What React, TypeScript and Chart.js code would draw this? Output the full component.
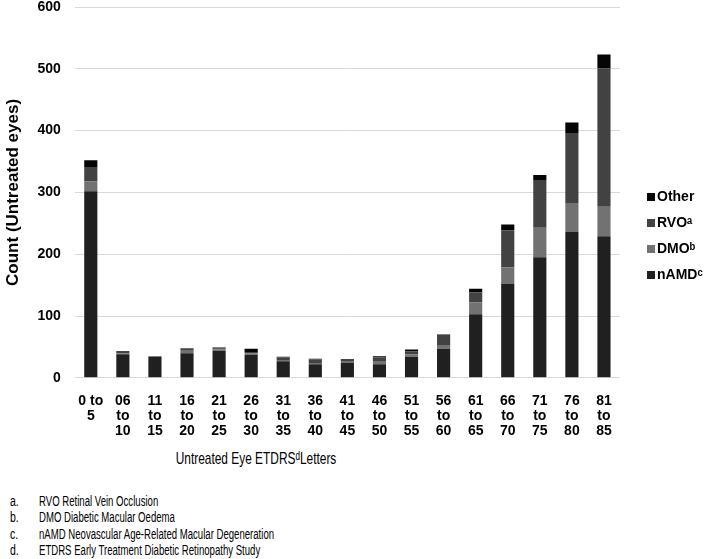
import React, { useEffect, useRef } from "react";
import { Chart, registerables } from "chart.js";

Chart.register(...registerables);

const categories: string[][] = [
  ["0 to", "5"], ["06", "to", "10"], ["11", "to", "15"], ["16", "to", "20"],
  ["21", "to", "25"], ["26", "to", "30"], ["31", "to", "35"], ["36", "to", "40"],
  ["41", "to", "45"], ["46", "to", "50"], ["51", "to", "55"], ["56", "to", "60"],
  ["61", "to", "65"], ["66", "to", "70"], ["71", "to", "75"], ["76", "to", "80"],
  ["81", "to", "85"],
];

const nAMD = [302, 38, 34, 40, 44, 37, 27, 22, 24, 22, 34, 47, 103, 152, 195, 236, 229];
const DMO = [16, 2, 0, 4, 2, 3, 2, 1, 2, 4, 4, 5, 19, 27, 48, 47, 48];
const RVO = [22, 2, 1, 3, 2, 2, 4, 7, 3, 7, 5, 16, 16, 60, 77, 113, 224];
const Other = [12, 1, 0, 1, 1, 5, 1, 1, 1, 2, 3, 2, 6, 9, 8, 17, 22];

const yTicks = [0, 100, 200, 300, 400, 500, 600];

const xTitle = "Untreated Eye ETDRS\u1D48Letters";
const yTitle = "Count (Untreated eyes)";

const footnotes: [string, string][] = [
  ["a.", "RVO Retinal Vein Occlusion"],
  ["b.", "DMO Diabetic Macular Oedema"],
  ["c.", "nAMD Neovascular Age-Related Macular Degeneration"],
  ["d.", "ETDRS Early Treatment Diabetic Retinopathy Study"],
];

const FONT = "'Liberation Sans', Arial, sans-serif";

const legendPlugin = {
  id: "customLegend",
  afterDraw(chart: any) {
    const ctx = chart.ctx;
    const area = chart.chartArea;
    const ds = chart.data.datasets;
    ctx.save();
    ctx.font = `bold 14px ${FONT}`;
    ctx.textBaseline = "middle";
    ctx.textAlign = "left";
    const x = area.right + 27;
    let y = area.top + 190;
    for (let i = ds.length - 1; i >= 0; i--) {
      ctx.fillStyle = ds[i].backgroundColor;
      ctx.fillRect(x, y - 4, 8, 8);
      ctx.fillStyle = "#000";
      ctx.fillText(ds[i].label, x + 10, y);
      y += 26;
    }
    ctx.restore();
  },
};

export default function App() {
  const ref = useRef<HTMLCanvasElement>(null);
  useEffect(() => {
    if (!ref.current) return;
    const chart = new Chart(ref.current, {
      type: "bar",
      data: {
        labels: categories as any,
        datasets: [
          { label: "nAMD\u1D9C", data: nAMD, backgroundColor: "#202020" },
          { label: "DMO\u1D47", data: DMO, backgroundColor: "#727272" },
          { label: "RVO\u1D43", data: RVO, backgroundColor: "#424242" },
          { label: "Other", data: Other, backgroundColor: "#050505" },
        ],
      },
      options: {
        responsive: false,
        animation: false,
        layout: { padding: { left: 0, right: 88, top: 7, bottom: 0 } },
        plugins: { legend: { display: false }, tooltip: { enabled: false } },
        datasets: { bar: { categoryPercentage: 1, barPercentage: 0.41 } },
        scales: {
          x: {
            stacked: true,
            grid: { display: false },
            border: { display: false },
            ticks: {
              color: "#000",
              font: { family: FONT, size: 14, weight: "bold", lineHeight: 1.075 },
              maxRotation: 0,
              autoSkip: false,
              padding: 8,
            },
          },
          y: {
            stacked: true,
            min: yTicks[0],
            max: yTicks[yTicks.length - 1],
            grid: { color: "#d9d9d9", drawTicks: false },
            border: { display: false },
            afterFit: (scale: any) => {
              scale.paddingTop = 0;
              scale.paddingBottom = 0;
            },
            ticks: {
              stepSize: 100,
              color: "#000",
              font: { family: FONT, size: 14, weight: "bold" },
              padding: 14,
            },
            title: {
              display: true,
              text: yTitle,
              color: "#000",
              font: { family: FONT, size: 17, weight: "bold" },
              padding: { top: 3, bottom: 0 },
            },
          },
        },
      },
      plugins: [legendPlugin],
    });
    return () => chart.destroy();
  }, []);

  return (
    <div style={{ position: "absolute", left: 0, top: 0, width: 708, height: 559, background: "#fff" }}>
      <canvas ref={ref} width={708} height={447} style={{ display: "block" }} />
      <div
        style={{
          position: "absolute",
          left: 256,
          top: 459,
          transform: "translate(-50%, -50%) scaleX(0.7)",
          fontFamily: FONT,
          fontSize: 17,
          whiteSpace: "nowrap",
          color: "#000",
        }}
      >
        {xTitle}
      </div>
      <div style={{ position: "absolute", left: 0, top: 493, fontFamily: FONT, fontSize: 14, color: "#000", width: 708 }}>
        {footnotes.map(([k, t]) => (
          <div key={k} style={{ position: "relative", height: 16.3, lineHeight: "16.3px" }}>
            <span style={{ position: "absolute", left: 10, transform: "scaleX(0.75)", transformOrigin: "left center" }}>{k}</span>
            <span
              style={{
                position: "absolute",
                left: 39,
                whiteSpace: "nowrap",
                transform: "scaleX(0.685)",
                transformOrigin: "left center",
              }}
            >
              {t}
            </span>
          </div>
        ))}
      </div>
    </div>
  );
}
